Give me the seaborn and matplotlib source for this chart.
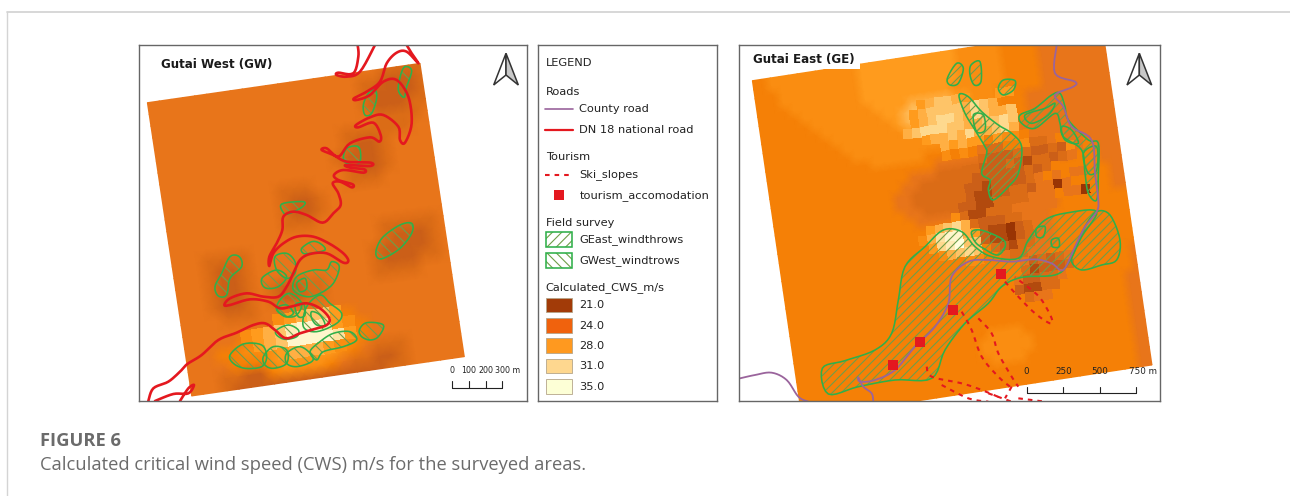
import numpy as np
import matplotlib
matplotlib.use("Agg")
import matplotlib.pyplot as plt
import seaborn as sns
from matplotlib.colors import LinearSegmentedColormap
from matplotlib.patches import Polygon, Rectangle
from matplotlib.transforms import Affine2D

# -----------------------
# CWS rasters, one hex digit per cell: value = 21 + digit, "." = no sharp cell
# the *_SMOOTH grids are the soft background, the *_CELLS grids the visible blocks
# -----------------------
WEST_SMOOTH = [
    "444444444444444444443333",
    "444444444444444444332223",
    "444444444444444444322223",
    "444444444444444444322233",
    "444444444444444444433334",
    "444444444444444433333344",
    "444444444444444432234444",
    "444444444444444322234444",
    "444444444444444432234444",
    "444444444433344433344444",
    "444444444432234444444444",
    "444444444432234444444444",
    "444444444433344444444444",
    "444444444444444444333334",
    "444333344444444444322234",
    "444322344444444443222234",
    "444322344444444443222334",
    "444322343223344443333444",
    "444322343223344444444444",
    "444433344444444444444444",
    "444444444455555444444444",
    "444445555666665544444444",
    "444556667777766544444444",
    "444455567777765433344444",
    "444332256666543322344444",
    "444322222222222223344444",
]
WEST_CELLS = [
    "........................",
    "........................",
    "........................",
    "........................",
    "........................",
    "........................",
    "........................",
    "........................",
    "........................",
    "........................",
    "........................",
    "........................",
    "........................",
    "........................",
    "........................",
    "........................",
    "........................",
    "........................",
    "........................",
    "........................",
    "........678997..........",
    ".....6789cddb76.........",
    "......789ddddb7.........",
    "........788876..........",
    "........................",
    "........................",
]
EAST_SMOOTH = [
    "5566666666 6677777777 7776666655 5544444444",
    "5566666666 6677777777 7776666655 5544444444",
    "5556666666 6677777777 7776666655 5544444444",
    "5556666666 6677777777 7776666655 5544444444",
    "5555666666 6677777777 7766666655 5544444444",
    "5555566666 6667777888 8877666555 5544444444",
    "5555556666 6666778999 9877666555 4444444444",
    "5555555666 6666678999 9877666555 4444444444",
    "5555555566 6666667788 8766665555 4444444444",
    "5555555556 6666666666 6666655554 4444444444",
    "5555555555 6666666666 6655554444 4444444444",
    "5555555555 5566666655 5554444444 4444444444",
    "5555555555 5555555554 4444433344 4444454444",
    "5555555555 5555554443 3333333333 4444555444",
    "5555555555 5555544333 3333333333 4455555444",
    "5555555555 5555443333 3333333333 4455555544",
    "5555555555 5555443333 3333333333 4455555544",
    "5555555555 5555544333 3333333334 4455555544",
    "5555555555 5555554444 4333333444 4455555555",
    "5555555555 5555555555 5443333444 4555555555",
    "5555555555 5555555555 5443333444 4555555555",
    "5555555555 5555555555 5443333444 4555555555",
    "5555555555 5555555555 5443333444 4555555555",
    "5555555555 5555555555 5555555544 5555555555",
    "5555555555 5555555555 5555555555 5555555554",
    "5555555555 5555555555 5555555555 5555555554",
    "5555555555 5555555555 5555555555 5555555554",
    "5555555555 5555555555 5555555555 5555555544",
    "5555555555 5555555555 5555555555 5555555544",
    "5555555555 5555555555 5555555555 5555555544",
    "5555555555 5555555555 5555555555 5555555544",
    "5555555555 5555555555 5566665555 5555555544",
    "5555555555 5555555555 5666666555 5555555544",
    "5555555555 5555555555 5666666555 5555555544",
    "5555555555 5555555555 5566665555 5555555544",
    "5555555555 5555555555 5555555555 5555555544",
    "5555555555 5555555555 5555555555 5555555544",
    "5555555555 5555555555 5555555555 5555555544",
]
EAST_CELLS = [
    ".......... .......... .......... ..........",
    ".......... .......... .......... ..........",
    ".......... .......... .......... ..........",
    ".......... .......... .......... ..........",
    ".......... .......... .......... ..........",
    ".......... ........78 9987...77. ..........",
    ".......... .......789 9998a98... ..........",
    ".......... .......789 aa98a9889. ..........",
    ".......... ......89aa a998899a9. ..........",
    ".......... ........78 898a889a8. ..........",
    ".......... .......... 8787757665 ..........",
    ".......... .......... 6565433556 3345......",
    ".......... .......... ....322233 2232645...",
    ".......... .......... ..33222321 33234.....",
    ".......... .......... 3332222223 235.......",
    ".......... .......... 3322122223 4545445...",
    ".......... .......... 3321122332 4404555...",
    ".......... .......... 3221133334 4454405...",
    ".......... .......... 6311333444 44........",
    ".......... .......789 a832223344 ..........",
    ".......... ......68bd d872110234 ..........",
    ".......... .......7ac e992110234 ..........",
    ".......... ........68 9a95321334 ..........",
    ".......... .......... 5665543344 ..........",
    ".......... .......... .......423 2345......",
    ".......... .......... .......312 2235......",
    ".......... .......... ......4223 345.......",
    ".......... .......... ......2113 3.........",
    ".......... .......... .......344 ..........",
    ".......... .......... .......... ..........",
    ".......... .......... .......... ..........",
    ".......... .......... .......... ..........",
    ".......... .......... .......... ..........",
    ".......... .......... .......... ..........",
    ".......... .......... .......... ..........",
    ".......... .......... .......... ..........",
    ".......... .......... .......... ..........",
    ".......... .......... .......... ..........",
]

# raster corners, map units (3 units = 1 image pixel)
WEST_ORIGIN, WEST_U, WEST_V = (52, 188), (818, -118), (133, 880)
EAST_ORIGIN, EAST_U, EAST_V = (52, 122), (1050, -161), (149, 1014)

# -----------------------
# Gutai West vectors
# -----------------------
WEST_ROAD_MAIN = [
    (55, 1083), (70, 1045), (115, 1025), (150, 995), (172, 972), (215, 945), (265, 900),
    (320, 878), (370, 855), (405, 850), (435, 870), (468, 895), (510, 880), (550, 868),
    (590, 855), (598, 835), (570, 805), (530, 790), (490, 798), (450, 805), (415, 785),
    (360, 778), (300, 795), (283, 795), (300, 775), (350, 760), (400, 770), (445, 770),
    (470, 740), (490, 700), (510, 660), (540, 642), (590, 640), (640, 668), (655, 662),
    (640, 640), (600, 612), (550, 590), (500, 590), (460, 610), (430, 640), (418, 678),
    (418, 650), (440, 610), (457, 570), (460, 530), (490, 515), (530, 525), (578, 548),
    (610, 520), (632, 495), (625, 460), (608, 430), (630, 425), (665, 442), (668, 433),
    (625, 420), (612, 405), (640, 390), (700, 398), (703, 388), (660, 383), (648, 375),
    (720, 378), (722, 368), (650, 365), (610, 345), (575, 330), (590, 325), (625, 350),
    (660, 310), (720, 292), (748, 305), (752, 285), (730, 248), (685, 262), (678, 255),
    (720, 232), (760, 225), (805, 260), (810, 300), (825, 308), (845, 250), (835, 170),
    (800, 120), (760, 125), (720, 165), (680, 180), (672, 175), (710, 155), (750, 125),
    (770, 70), (800, 38), (830, 35), (865, 70), (845, 40), (830, 15),
]
WEST_ROAD_TOP = [(735, 15), (690, 95), (650, 110), (620, 105), (625, 98), (670, 100), (685, 50), (683, 15)]
WEST_ROAD_LOW = [(75, 1083), (130, 1062), (175, 1060), (192, 1035), (175, 1045), (150, 1083)]
WEST_AREAS = [
    [(825, 80), (845, 92), (830, 140), (822, 172), (805, 150), (812, 105)],
    [(735, 150), (740, 175), (725, 220), (705, 225), (700, 195), (715, 160)],
    [(650, 325), (685, 320), (692, 355), (680, 375), (650, 370), (640, 355)],
    [(455, 492), (520, 485), (518, 500), (480, 520), (462, 520)],
    [(740, 625), (760, 590), (810, 555), (845, 550), (845, 580), (810, 625), (760, 655), (740, 650)],
    [(300, 650), (328, 650), (335, 680), (300, 715), (290, 765), (265, 768), (255, 740), (275, 700)],
    [(515, 625), (545, 605), (570, 610), (585, 630), (540, 640), (520, 640)],
    [(435, 650), (470, 640), (495, 665), (495, 700), (470, 715), (440, 690)],
    [(400, 710), (440, 690), (470, 710), (445, 740), (410, 745), (395, 730)],
    [(500, 710), (550, 690), (590, 690), (605, 665), (628, 680), (610, 730), (570, 760), (530, 770), (490, 750)],
    [(480, 760), (515, 790), (500, 825), (470, 830), (440, 810), (450, 780)],
    [(530, 800), (570, 765), (600, 790), (635, 820), (620, 850), (560, 875), (520, 860)],
    [(545, 815), (570, 825), (585, 855), (560, 855), (545, 835)],
    [(440, 870), (475, 855), (505, 870), (500, 890), (465, 898), (440, 885)],
    [(300, 945), (340, 912), (395, 915), (410, 950), (395, 980), (345, 985), (310, 970)],
    [(400, 950), (430, 920), (470, 930), (470, 970), (430, 985), (405, 975)],
    [(470, 940), (510, 920), (545, 945), (545, 965), (500, 980), (470, 970)],
    [(540, 935), (570, 905), (610, 880), (660, 875), (680, 900), (640, 920), (580, 935), (560, 960)],
    [(688, 870), (710, 848), (760, 855), (745, 890), (720, 900), (695, 890)],
    [(500, 730), (525, 715), (530, 745), (510, 755)],
    [(440, 805), (470, 795), (490, 820), (465, 830)],
    [(495, 795), (520, 790), (525, 825), (505, 830)],
]
WEST_SCALE_TICKS = [965, 1016, 1067, 1117]
WEST_SCALE_LABELS = ["0", "100", "200", "300 m"]

# -----------------------
# Gutai East vectors
# -----------------------
EAST_AREAS = [
    [(262, 985), (330, 962), (420, 930), (470, 880), (490, 780), (510, 680), (570, 620), (625, 570),
     (680, 575), (720, 620), (770, 650), (850, 655), (880, 600), (930, 540), (1000, 518), (1085, 515),
     (1040, 590), (1000, 670), (960, 705), (860, 712), (800, 740), (760, 790), (690, 850), (630, 930),
     (590, 1015), (480, 1020), (370, 1040), (280, 1062)],
    [(1085, 515), (1125, 525), (1155, 600), (1145, 660), (1100, 675), (1040, 690), (1010, 665), (1020, 630), (1050, 560)],
    [(710, 575), (745, 572), (810, 605), (790, 645), (745, 625), (720, 605)],
    [(672, 165), (700, 170), (740, 215), (790, 255), (830, 280), (860, 320), (850, 400), (820, 440),
     (775, 480), (760, 450), (765, 420), (740, 400), (755, 340), (750, 320), (720, 270), (690, 220)],
    [(637, 115), (665, 70), (685, 85), (670, 130), (645, 135)],
    [(708, 75), (735, 65), (738, 125), (718, 135), (705, 105)],
    [(790, 145), (805, 120), (840, 122), (835, 150), (805, 165)],
    [(855, 225), (900, 205), (950, 165), (975, 160), (990, 200), (1000, 240), (1060, 300), (1090, 310),
     (1090, 400), (1085, 480), (1060, 460), (1050, 400), (1040, 330), (985, 290), (975, 250), (960, 220),
     (900, 265), (860, 250)],
    [(870, 225), (930, 205), (960, 190), (940, 225), (890, 250)],
    [(715, 225), (745, 225), (750, 270), (725, 275)],
    [(905, 565), (930, 560), (925, 590), (905, 590)],
    [(1045, 340), (1085, 320), (1085, 390), (1060, 400)],
    [(980, 260), (1010, 270), (1030, 310), (990, 300)],
    [(950, 600), (970, 595), (972, 620), (952, 620)],
]
EAST_COUNTY_ROAD = [
    (965, 15), (960, 100), (1020, 125), (1015, 140), (960, 165), (985, 200), (1010, 260), (1070, 300),
    (1080, 400), (1090, 480), (1085, 515), (1050, 560), (1020, 620), (985, 690), (950, 670), (900, 658),
    (830, 665), (760, 660), (700, 665), (650, 710), (640, 790), (600, 860), (540, 920), (480, 990),
    (420, 1020), (375, 1025), (370, 1012), (385, 1040), (410, 1060), (415, 1085),
]
EAST_COUNTY_ROAD_LEFT = [(15, 1015), (60, 1005), (110, 998), (155, 1020), (190, 1070), (220, 1085)]
EAST_SKI_SLOPES = [
    [(810, 725), (850, 770), (900, 820), (945, 850), (950, 835), (920, 780), (890, 750), (840, 712)],
    [(680, 815), (710, 870), (740, 950), (790, 1010), (825, 1040)],
    [(730, 835), (770, 880), (790, 940), (830, 1010), (850, 1040)],
    [(575, 980), (590, 1010), (680, 1030), (740, 1050), (800, 1075)],
    [(620, 1035), (700, 1075), (760, 1085)],
    [(850, 1075), (930, 1085)],
    [(760, 1060), (830, 1085)],
    [(830, 1040), (810, 1075)],
]
ACCOMMODATION_X = [797, 655, 555, 474]
ACCOMMODATION_Y = [703, 810, 905, 975]
EAST_SCALE_TICKS = [875, 985, 1094, 1204]
EAST_SCALE_LABELS = ["0", "250", "500", "750 m"]

# -----------------------
# Legend
# -----------------------
LEGEND_HEADINGS = ["LEGEND", "Roads", "Tourism", "Field survey", "Calculated_CWS_m/s"]
LEGEND_VALUES = ["21.0", "24.0", "28.0", "31.0", "35.0"]
LEGEND_COLORS = ["#A23B08", "#F0620D", "#FF991F", "#FED78F", "#FDFFD6"]

RED = "#E4181F"
PURPLE = "#9A649C"
GREEN = "#2FB04A"
HATCH = "#6F9E48"
FONT_LEGEND = 8.2

sns.set_theme(style="white")
plt.rcParams["font.family"] = ["DejaVu Sans"]

cws_cmap = LinearSegmentedColormap.from_list(
    "cws",
    [(0.0, "#993404"), (2 / 14, "#CC6018"), (3 / 14, "#DC6C16"), (4 / 14, "#E8751A"), (5 / 14, "#F58006"),
     (7 / 14, "#FF9A1C"), (10 / 14, "#FED98E"), (1.0, "#FFFFE0")],
)


def parse_rows(rows):
    return np.array([[np.nan if c == "." else 21 + int(c, 16) for c in r.replace(" ", "")] for r in rows])


def draw_raster(ax, smooth_rows, cell_rows, origin, u, v):
    # soft background: values sit on nodes spanning the whole raster
    soft = parse_rows(smooth_rows)
    n_rows, n_cols = soft.shape
    jj, ii = np.meshgrid(np.linspace(0, 1, n_cols), np.linspace(0, 1, n_rows))
    xx = origin[0] + jj * u[0] + ii * v[0]
    yy = origin[1] + jj * u[1] + ii * v[1]
    ax.pcolormesh(xx, yy, soft, shading="gouraud", cmap=cws_cmap, vmin=21, vmax=35, zorder=1)

    # sharp cells on top
    cells = parse_rows(cell_rows)
    before = len(ax.collections)
    sns.heatmap(cells, ax=ax, cmap=cws_cmap, vmin=21, vmax=35, cbar=False,
                xticklabels=False, yticklabels=False)
    mesh = ax.collections[before]
    to_map = Affine2D.from_values(u[0] / n_cols, u[1] / n_cols, v[0] / n_rows, v[1] / n_rows,
                                  origin[0], origin[1])
    mesh.set_transform(to_map + ax.transData)
    mesh.set_zorder(1.5)


def rounded(pts, closed=False, n=6):
    # catmull-rom through the traced points, so lines do not look angular
    p = np.array(pts, dtype=float)
    p = np.vstack([p[-1], p, p[0], p[1]]) if closed else np.vstack([p[0], p, p[-1]])
    out = []
    for i in range(1, len(p) - 2):
        a, b, c, d = p[i - 1:i + 3]
        for t in np.linspace(0, 1, n, endpoint=False):
            out.append(0.5 * (2 * b + (c - a) * t + (2 * a - 5 * b + 4 * c - d) * t ** 2
                              + (3 * b - a - 3 * c + d) * t ** 3))
    out.append(p[-2])
    return np.array(out)


def draw_area(ax, pts, step, slope, smooth=True):
    shape = rounded(pts, closed=True) if smooth else np.array(pts, dtype=float)
    outline = Polygon(shape, closed=True, fill=False, ec=GREEN, lw=1.15, zorder=4)
    ax.add_patch(outline)
    x0, x1 = shape[:, 0].min(), shape[:, 0].max()
    offs = shape[:, 1] - slope * shape[:, 0]
    for c in np.arange(np.floor(offs.min() / step) * step, offs.max() + step, step):
        line, = ax.plot([x0, x1], [c + slope * x0, c + slope * x1], color=HATCH, lw=0.8, zorder=3)
        line.set_clip_path(outline)


def draw_road(ax, pts, color, lw):
    xy = rounded(pts)
    ax.plot(xy[:, 0], xy[:, 1], color=color, lw=lw, solid_joinstyle="round",
            solid_capstyle="round", zorder=5)


def draw_north(ax, x, tip, base, notch, half):
    ax.add_patch(Polygon([(x, tip), (x - half, base), (x, notch)], fc="white", ec="#333333", lw=1.1, zorder=6))
    ax.add_patch(Polygon([(x, tip), (x + half, base), (x, notch)], fc="#C8C8C8", ec="#333333", lw=1.1, zorder=6))


def draw_scale(ax, ticks, labels, y_bar, y_top, y_text, size):
    ax.plot([ticks[0], ticks[-1]], [y_bar, y_bar], color="#222222", lw=0.8, zorder=7)
    for t, lab in zip(ticks, labels):
        ax.plot([t, t], [y_bar, y_top], color="#222222", lw=0.8, zorder=7)
        if lab.endswith("m"):
            ax.text(t - 22, y_text, lab, fontsize=size, ha="left", va="center", color="#222222", zorder=7)
        else:
            ax.text(t, y_text, lab, fontsize=size, ha="center", va="center", color="#222222", zorder=7)


def panel(fig, left, right, top, bottom, ox, oy):
    ax = fig.add_axes([left / 1290, 1 - bottom / 496, (right - left) / 1290, (bottom - top) / 496])
    limits = ((left - ox) * 3, (right - ox) * 3), ((bottom - oy) * 3, (top - oy) * 3)
    return ax, limits


def finish(ax, limits):
    ax.set_xlim(*limits[0])
    ax.set_ylim(*limits[1])
    ax.set_xticks([])
    ax.set_yticks([])
    for s in ax.spines.values():
        s.set_visible(True)
        s.set_color("#666666")
        s.set_linewidth(1.0)
        s.set_zorder(20)


fig = plt.figure(figsize=(12.9, 4.96), dpi=100, facecolor="white")

# card outline
fig.add_artist(plt.Line2D([7 / 1290, 1], [1 - 12 / 496, 1 - 12 / 496], color="#D4D4D4", lw=1.3))
fig.add_artist(plt.Line2D([7 / 1290, 7 / 1290], [1 - 12 / 496, 0], color="#D4D4D4", lw=1.0))

# --- West ---
ax_w, lim_w = panel(fig, 139, 527, 45, 401, 130, 40)
draw_raster(ax_w, WEST_SMOOTH, WEST_CELLS, WEST_ORIGIN, WEST_U, WEST_V)
for a in WEST_AREAS:
    draw_area(ax_w, a, 36, 1.0)
draw_road(ax_w, WEST_ROAD_MAIN, RED, 1.9)
draw_road(ax_w, WEST_ROAD_TOP, RED, 1.9)
draw_road(ax_w, WEST_ROAD_LOW, RED, 1.9)
ax_w.text(92, 75, "Gutai West (GW)", fontsize=8.6, fontweight="bold", color="#1A1A1A", va="center", zorder=8)
draw_north(ax_w, 1128, 40, 135, 105, 37)
draw_scale(ax_w, WEST_SCALE_TICKS, WEST_SCALE_LABELS, 1045, 1022, 992, 5.7)
finish(ax_w, lim_w)

# --- Legend ---
ax_l, lim_l = panel(fig, 538, 717, 45, 401, 530, 40)
heading_y = [68, 157, 352, 548, 743]
for txt, y in zip(LEGEND_HEADINGS, heading_y):
    ax_l.text(47, y, txt, fontsize=FONT_LEGEND, color="#222222", va="center")
ax_l.plot([45, 130], [208, 208], color=PURPLE, lw=1.2)
ax_l.text(148, 208, "County road", fontsize=FONT_LEGEND, color="#222222", va="center")
ax_l.plot([45, 130], [270, 270], color=RED, lw=1.6)
ax_l.text(148, 270, "DN 18 national road", fontsize=FONT_LEGEND, color="#222222", va="center")
ax_l.plot([45, 118], [405, 405], color=RED, lw=1.5, ls=(0, (2.2, 2.4)))
ax_l.text(148, 405, "Ski_slopes", fontsize=FONT_LEGEND, color="#222222", va="center")
ax_l.scatter([87], [466], marker="s", s=46, color=RED, linewidths=0)
ax_l.text(148, 466, "tourism_accomodation", fontsize=FONT_LEGEND, color="#222222", va="center")
box_x = [47, 127, 127, 47]
draw_area(ax_l, list(zip(box_x, [577, 577, 622, 622])), 28, -1.0, smooth=False)
ax_l.text(148, 600, "GEast_windthrows", fontsize=FONT_LEGEND, color="#222222", va="center")
draw_area(ax_l, list(zip(box_x, [638, 638, 683, 683])), 28, 1.0, smooth=False)
ax_l.text(148, 661, "GWest_windtrows", fontsize=FONT_LEGEND, color="#222222", va="center")
swatch_y = [773, 834, 895, 956, 1017]
for y, col, lab in zip(swatch_y, LEGEND_COLORS, LEGEND_VALUES):
    ax_l.add_patch(Rectangle((47, y), 80, 44, fc=col, ec="#B5A58A", lw=0.6))
    ax_l.text(148, y + 23, lab, fontsize=FONT_LEGEND, color="#222222", va="center")
finish(ax_l, lim_l)

# --- East ---
ax_e, lim_e = panel(fig, 739, 1160, 45, 401, 735, 40)
draw_raster(ax_e, EAST_SMOOTH, EAST_CELLS, EAST_ORIGIN, EAST_U, EAST_V)
ax_e.add_patch(Rectangle((12, 15), 363, 72, fc="white", ec="none", zorder=2))
for a in EAST_AREAS:
    draw_area(ax_e, a, 27, -1.0)
draw_road(ax_e, EAST_COUNTY_ROAD, PURPLE, 1.3)
draw_road(ax_e, EAST_COUNTY_ROAD_LEFT, PURPLE, 1.3)
for s in EAST_SKI_SLOPES:
    xy = rounded(s)
    ax_e.plot(xy[:, 0], xy[:, 1], color=RED, lw=1.5, ls=(0, (2.2, 2.4)), zorder=5)
ax_e.scatter(ACCOMMODATION_X, ACCOMMODATION_Y, marker="s", s=46, color=RED, linewidths=0, zorder=6)
ax_e.text(55, 60, "Gutai East (GE)", fontsize=8.6, fontweight="bold", color="#1A1A1A", va="center", zorder=8)
draw_north(ax_e, 1213, 40, 135, 105, 37)
draw_scale(ax_e, EAST_SCALE_TICKS, EAST_SCALE_LABELS, 1060, 1040, 995, 6.3)
finish(ax_e, lim_e)

# --- Caption ---
fig.text(40 / 1290, 1 - 441 / 496, "FIGURE 6", fontsize=13.2, fontweight="bold", color="#6B6B6B",
         family="Open Sans", va="center")
fig.text(40 / 1290, 1 - 465 / 496, "Calculated critical wind speed (CWS) m/s for the surveyed areas.",
         fontsize=13.2, color="#6B6B6B", family="Open Sans", va="center")

fig.savefig("out.png", dpi=100)
